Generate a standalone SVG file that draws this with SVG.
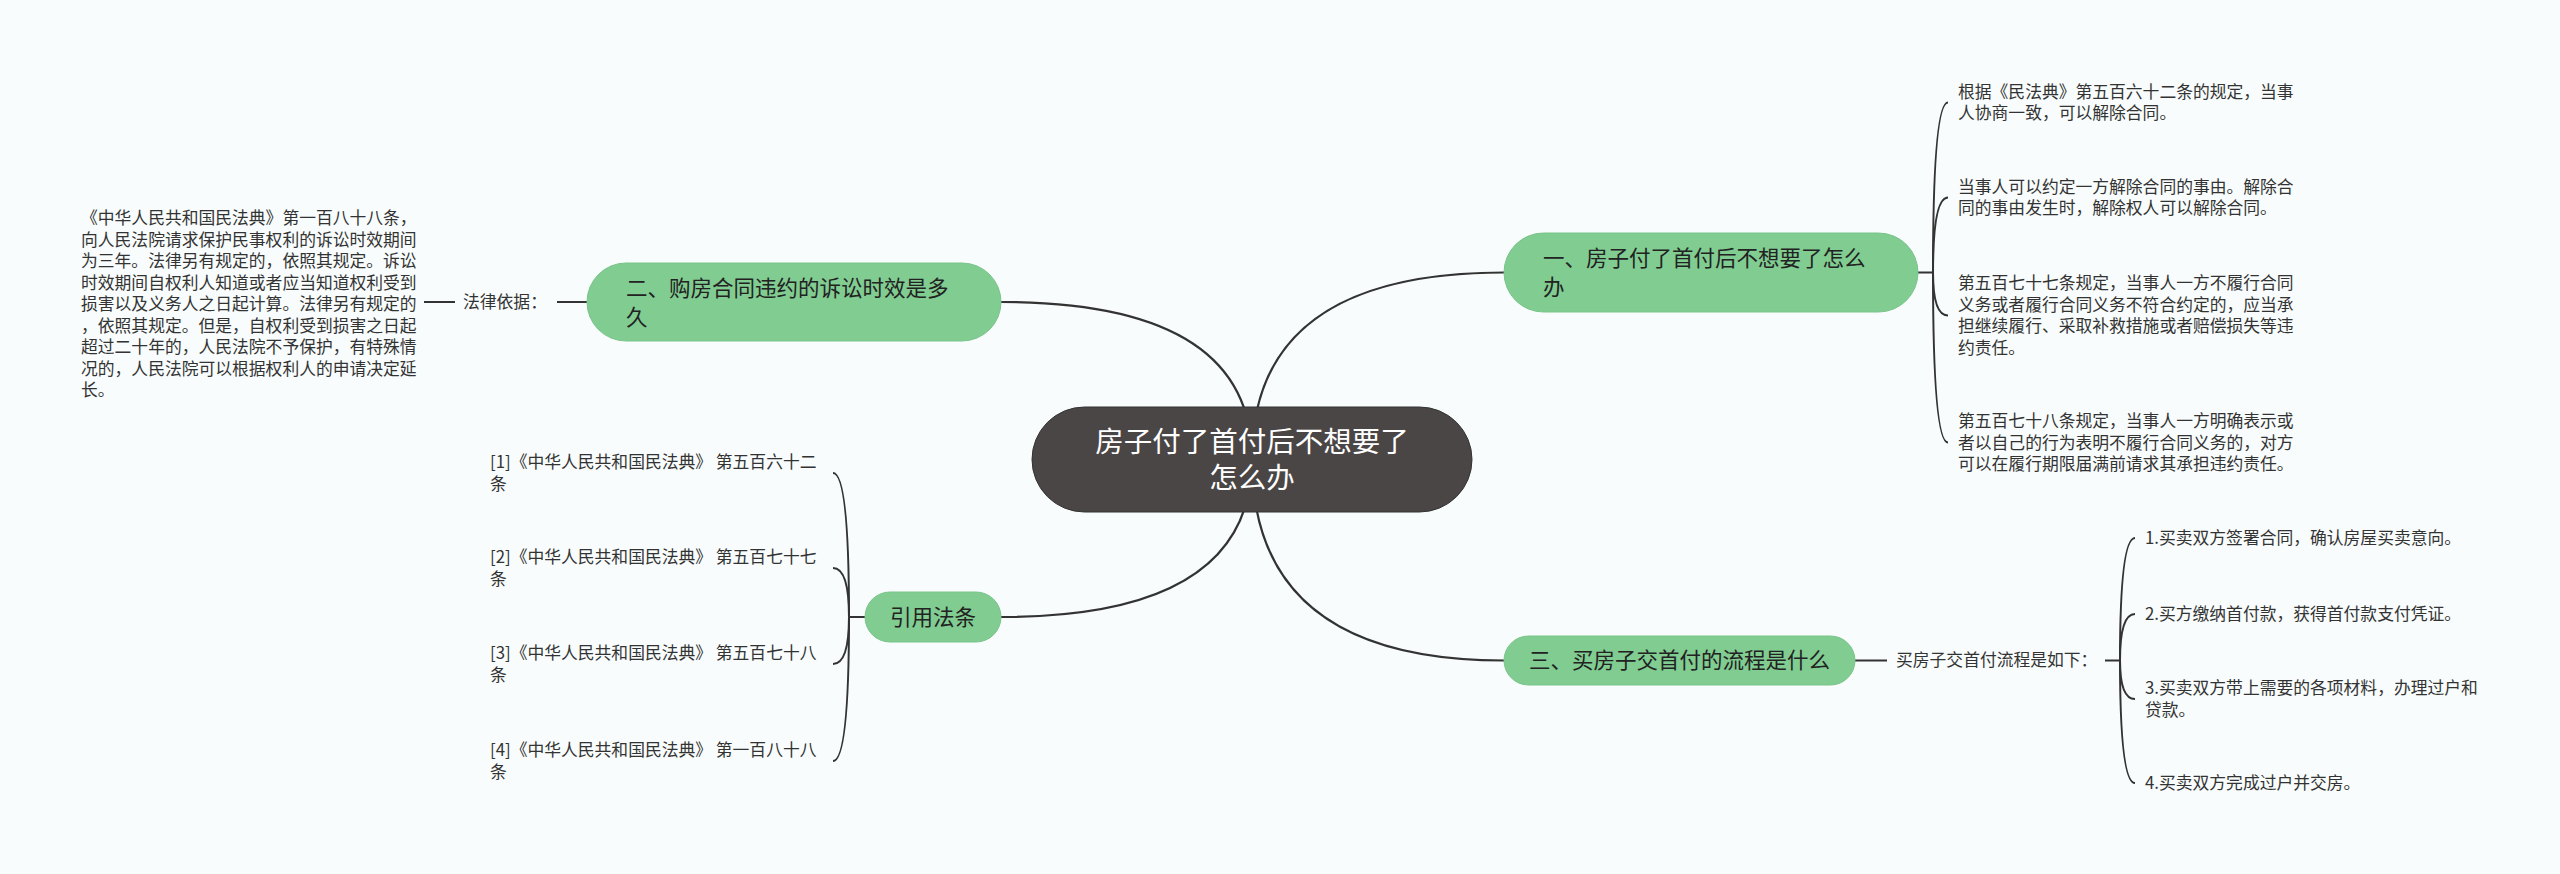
<svg xmlns="http://www.w3.org/2000/svg" width="2560" height="874" viewBox="0 0 2560 874">
<style>
.bg{fill:#f8fcfc}
.ln{fill:none;stroke:#333;stroke-width:2}
.main{fill:none;stroke:#333;stroke-width:2.2}
.green{fill:#80cc91;stroke:#79c48a;stroke-width:1}
.center{fill:#4b4646;stroke:#333;stroke-width:1}
.t{font-family:"Noto Sans CJK SC","Noto Sans",sans-serif;}
.nt{font-size:21.5px;fill:#222}
.ct{font-size:28.5px;fill:#fff}
.st{font-size:16.8px;fill:#333}
</style>
<rect class="bg" x="0" y="0" width="2560" height="874"/>
<g id="connectors">
<path class="main" d="M1252,459 Q1252,302 1001,302"/>
<path class="main" d="M1252,459 Q1252,272.5 1504,272.5"/>
<path class="main" d="M1252,459 Q1252,617 1001,617"/>
<path class="main" d="M1252,459 Q1252,660.5 1504,660.5"/>
<path class="ln" d="M587,302 H557"/>
<path class="ln" d="M455,302 H424"/>
<path class="ln" d="M1918,272.5 H1933 Q1933,102.5 1948,102.5"/>
<path class="ln" d="M1933,272.5 Q1933,197.5 1948,197.5"/>
<path class="ln" d="M1933,272.5 Q1933,315.5 1948,315.5"/>
<path class="ln" d="M1933,272.5 Q1933,442.5 1948,442.5"/>
<path class="ln" d="M865,617 H849 Q849,473 833,473"/>
<path class="ln" d="M849,617 Q849,568 833,568"/>
<path class="ln" d="M849,617 Q849,664 833,664"/>
<path class="ln" d="M849,617 Q849,761 833,761"/>
<path class="ln" d="M1855,660.5 H1887"/>
<path class="ln" d="M2105,660.5 H2120 Q2120,538 2135,538"/>
<path class="ln" d="M2120,660.5 Q2120,614 2135,614"/>
<path class="ln" d="M2120,660.5 Q2120,699 2135,699"/>
<path class="ln" d="M2120,660.5 Q2120,783 2135,783"/>
</g>
<g id="center">
<rect class="center" x="1032" y="407" width="440" height="105" rx="52.5"/>
<text class="t ct" x="1252" y="452" text-anchor="middle">房子付了首付后不想要了</text>
<text class="t ct" x="1252" y="488" text-anchor="middle">怎么办</text>
</g>
<g id="n1">
<rect class="green" x="1504" y="233" width="414" height="79" rx="39.5"/>
<text class="t nt" x="1543" y="266">一、房子付了首付后不想要了怎么</text>
<text class="t nt" x="1543" y="295">办</text>
</g>
<g id="n2">
<rect class="green" x="587" y="263" width="414" height="78" rx="39"/>
<text class="t nt" x="626" y="296">二、购房合同违约的诉讼时效是多</text>
<text class="t nt" x="626" y="325">久</text>
</g>
<g id="n3">
<rect class="green" x="1504" y="636" width="351" height="49" rx="24.5"/>
<text class="t nt" x="1679.5" y="668" text-anchor="middle">三、买房子交首付的流程是什么</text>
</g>
<g id="n4">
<rect class="green" x="865" y="592" width="136" height="50" rx="25"/>
<text class="t nt" x="933" y="625" text-anchor="middle">引用法条</text>
</g>
<g id="n2-label">
<text class="t st" x="463" y="308">法律依据：</text>
</g>
<g id="n2-text">
<text class="t st" x="81" y="224">《中华人民共和国民法典》第一百八十八条，</text>
<text class="t st" x="81" y="245.5">向人民法院请求保护民事权利的诉讼时效期间</text>
<text class="t st" x="81" y="267">为三年。法律另有规定的，依照其规定。诉讼</text>
<text class="t st" x="81" y="288.5">时效期间自权利人知道或者应当知道权利受到</text>
<text class="t st" x="81" y="310">损害以及义务人之日起计算。法律另有规定的</text>
<text class="t st" x="81" y="331.5">，依照其规定。但是，自权利受到损害之日起</text>
<text class="t st" x="81" y="353">超过二十年的，人民法院不予保护，有特殊情</text>
<text class="t st" x="81" y="374.5">况的，人民法院可以根据权利人的申请决定延</text>
<text class="t st" x="81" y="396">长。</text>
</g>
<g id="n1-item1">
<text class="t st" x="1958" y="98">根据《民法典》第五百六十二条的规定，当事</text>
<text class="t st" x="1958" y="119">人协商一致，可以解除合同。</text>
</g>
<g id="n1-item2">
<text class="t st" x="1958" y="193">当事人可以约定一方解除合同的事由。解除合</text>
<text class="t st" x="1958" y="214">同的事由发生时，解除权人可以解除合同。</text>
</g>
<g id="n1-item3">
<text class="t st" x="1958" y="289">第五百七十七条规定，当事人一方不履行合同</text>
<text class="t st" x="1958" y="311">义务或者履行合同义务不符合约定的，应当承</text>
<text class="t st" x="1958" y="332">担继续履行、采取补救措施或者赔偿损失等违</text>
<text class="t st" x="1958" y="354">约责任。</text>
</g>
<g id="n1-item4">
<text class="t st" x="1958" y="427">第五百七十八条规定，当事人一方明确表示或</text>
<text class="t st" x="1958" y="449">者以自己的行为表明不履行合同义务的，对方</text>
<text class="t st" x="1958" y="470">可以在履行期限届满前请求其承担违约责任。</text>
</g>
<g id="n4-item1">
<text class="t st" x="490" y="468">[1]《中华人民共和国民法典》 第五百六十二</text>
<text class="t st" x="490" y="490">条</text>
</g>
<g id="n4-item2">
<text class="t st" x="490" y="563">[2]《中华人民共和国民法典》 第五百七十七</text>
<text class="t st" x="490" y="585">条</text>
</g>
<g id="n4-item3">
<text class="t st" x="490" y="659">[3]《中华人民共和国民法典》 第五百七十八</text>
<text class="t st" x="490" y="681">条</text>
</g>
<g id="n4-item4">
<text class="t st" x="490" y="756">[4]《中华人民共和国民法典》 第一百八十八</text>
<text class="t st" x="490" y="778">条</text>
</g>
<g id="n3-label">
<text class="t st" x="1896" y="666">买房子交首付流程是如下：</text>
</g>
<g id="n3-item1"><text class="t st" x="2145" y="544">1.买卖双方签署合同，确认房屋买卖意向。</text></g>
<g id="n3-item2"><text class="t st" x="2145" y="620">2.买方缴纳首付款，获得首付款支付凭证。</text></g>
<g id="n3-item3">
<text class="t st" x="2145" y="694">3.买卖双方带上需要的各项材料，办理过户和</text>
<text class="t st" x="2145" y="716">贷款。</text>
</g>
<g id="n3-item4"><text class="t st" x="2145" y="789">4.买卖双方完成过户并交房。</text></g>
</svg>
